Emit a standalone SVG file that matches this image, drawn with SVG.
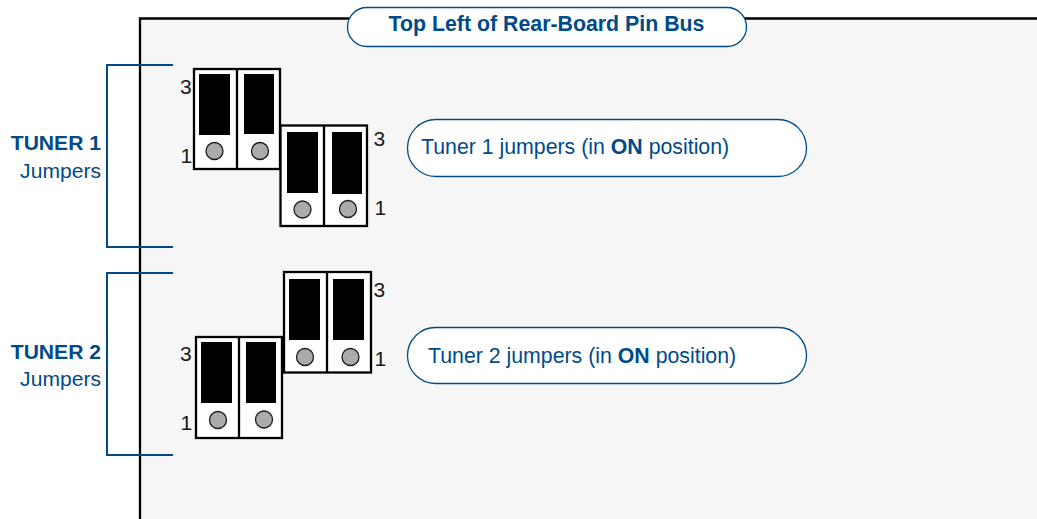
<svg xmlns="http://www.w3.org/2000/svg" width="1037" height="519" viewBox="0 0 1037 519">
<style>
text{font-family:"Liberation Sans",Arial,sans-serif}
.blue{fill:#004b87}
.num{fill:#1a1a1a;font-size:21px}
.lab{font-size:21.100px}
.b{font-weight:700}
.pill{fill:#fff;stroke:#004b87;stroke-width:1.300}
.brk{fill:none;stroke:#004b87;stroke-width:2}
.box{fill:#fff;stroke:#000;stroke-width:2.300}
.div{stroke:#000;stroke-width:2.300}
.pin{fill:#000}
.dot{fill:#ababab;stroke:#1a1a1a;stroke-width:1.300}
</style>
<g id="board">
<rect x="140" y="19" width="897" height="500" fill="#f6f6f6"/>
<path d="M140 519V18.500H1037" fill="none" stroke="#000" stroke-width="2.300"/>
</g>
<g id="title"><rect class="pill" x="347.500" y="7.500" width="399" height="39" rx="19.500"/>
<text class="blue b" x="546.500" y="31" font-size="21.330" text-anchor="middle">Top Left of Rear-Board Pin Bus</text></g>
<g id="tuner1-bracket"><path class="brk" d="M173 65H107V247H173"/>
<text class="blue b lab" x="101" y="150" text-anchor="end">TUNER 1</text>
<text class="blue lab" x="101" y="178" text-anchor="end">Jumpers</text></g>
<g id="tuner2-bracket"><path class="brk" d="M173 273H107V455H173"/>
<text class="blue b lab" x="101" y="359" text-anchor="end">TUNER 2</text>
<text class="blue lab" x="101" y="386" text-anchor="end">Jumpers</text></g>
<g id="jumper-a"><rect class="box" x="194" y="69" width="86" height="100"/><path class="div" d="M237 69V169"/>
<rect class="pin" x="199" y="74" width="31" height="61"/><rect class="pin" x="244" y="74" width="30" height="60"/>
<circle class="dot" cx="214.500" cy="151" r="8.500"/><circle class="dot" cx="260" cy="151" r="8.500"/>
<text class="num" x="180" y="94">3</text><text class="num" x="180.500" y="163">1</text></g>
<g id="jumper-b"><rect class="box" x="280.500" y="125.500" width="86.500" height="100.500"/><path class="div" d="M324 125V226"/>
<rect class="pin" x="287" y="132" width="31" height="61"/><rect class="pin" x="332" y="132" width="30" height="62"/>
<circle class="dot" cx="302.500" cy="209.500" r="8.500"/><circle class="dot" cx="348" cy="209" r="8.500"/>
<text class="num" x="373.500" y="145.500">3</text><text class="num" x="374.500" y="214.500">1</text></g>
<g id="jumper-c"><rect class="box" x="284" y="272" width="87" height="100.500"/><path class="div" d="M327 272V373"/>
<rect class="pin" x="289" y="279" width="31" height="61"/><rect class="pin" x="333" y="279" width="31" height="61"/>
<circle class="dot" cx="305" cy="357" r="8.500"/><circle class="dot" cx="350.500" cy="357" r="8.500"/>
<text class="num" x="373.500" y="296.500">3</text><text class="num" x="374.500" y="365.500">1</text></g>
<g id="jumper-d"><rect class="box" x="196" y="337" width="86" height="101"/><path class="div" d="M239 337V438"/>
<rect class="pin" x="201" y="342" width="31" height="61"/><rect class="pin" x="246" y="342" width="30" height="61"/>
<circle class="dot" cx="218" cy="420" r="8.500"/><circle class="dot" cx="264" cy="419.500" r="8.500"/>
<text class="num" x="180" y="360.500">3</text><text class="num" x="180.500" y="429.500">1</text></g>
<g id="tuner1-note"><rect class="pill" x="407.500" y="119.500" width="399" height="57" rx="28.500"/>
<text class="blue" x="421" y="154" font-size="21.300">Tuner 1 jumpers (in <tspan class="b">ON</tspan> position)</text></g>
<g id="tuner2-note"><rect class="pill" x="407.500" y="327.500" width="399" height="56" rx="28"/>
<text class="blue" x="428" y="363" font-size="21.300">Tuner 2 jumpers (in <tspan class="b">ON</tspan> position)</text></g>
</svg>
